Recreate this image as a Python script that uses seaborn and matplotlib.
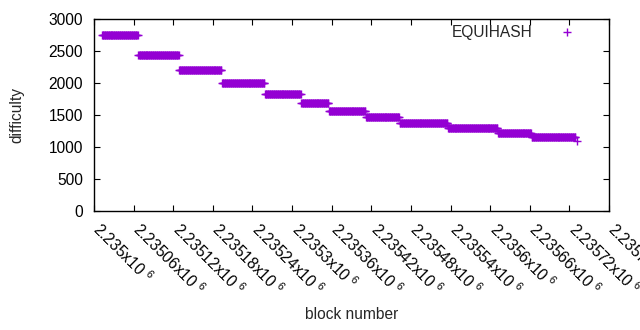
import numpy as np
import pandas as pd
import matplotlib
matplotlib.use("Agg")
import matplotlib.pyplot as plt
import matplotlib.transforms as mtransforms
import seaborn as sns

# ── Data ─────────────────────────────────────────────────────────────────────
BLOCK_BASE   = 2235000
SEG_START    = [12, 67, 129, 194, 259, 314, 356, 412, 463, 536, 612, 663]   # offset from base
SEG_END      = [66, 128, 193, 258, 313, 355, 411, 462, 535, 611, 662, 729]
SEG_DIFF     = [2750, 2432, 2198, 1995, 1823, 1683, 1558, 1464, 1370, 1292, 1214, 1151]
LAST_BLOCK   = 731
LAST_DIFF    = 1089

XTICKS       = [2235000 + 60 * i for i in range(14)]
XTICK_LABELS = ["2.235", "2.23506", "2.23512", "2.23518", "2.23524", "2.2353", "2.23536",
                "2.23542", "2.23548", "2.23554", "2.2356", "2.23566", "2.23572", "2.23578"]
YTICKS       = [0, 500, 1000, 1500, 2000, 2500, 3000]

PURPLE = "#9400d3"
FS = 11.2

rows = []
for s, e, d in zip(SEG_START, SEG_END, SEG_DIFF):
    for b in range(s, e + 1):
        rows.append({"block": BLOCK_BASE + b, "difficulty": d})
rows.append({"block": BLOCK_BASE + LAST_BLOCK, "difficulty": LAST_DIFF})
df = pd.DataFrame(rows)

sns.set_style("white")
plt.rcParams["font.family"] = ["Liberation Sans", "DejaVu Sans"]
plt.rcParams["mathtext.fontset"] = "custom"
plt.rcParams["mathtext.rm"] = "Liberation Sans"
plt.rcParams["mathtext.default"] = "regular"

fig = plt.figure(figsize=(6.4, 3.3), dpi=100)
ax = fig.add_axes([94 / 640, 119 / 330, 515 / 640, 192 / 330])

sns.scatterplot(data=df, x="block", y="difficulty", ax=ax, marker="+",
                color=PURPLE, s=40, linewidth=1.0, legend=False)

ax.set_xlim(2235000, 2235780)
ax.set_ylim(0, 3000)
ax.set_xticks(XTICKS)
ax.set_xticklabels([f"{t}x10 $^{{6}}$" for t in XTICK_LABELS], rotation=-45,
                   ha="left", va="top", rotation_mode="anchor", fontsize=FS)
ax.set_yticks(YTICKS)
ax.set_yticklabels([str(v) for v in YTICKS], fontsize=FS)
ax.tick_params(direction="in", length=4, width=0.8, top=True, right=True,
               bottom=True, left=True, colors="black")
ax.tick_params(axis="y", pad=8)
ax.tick_params(axis="x", pad=6)
# nudge the slanted labels so they start right at their tick (after tick_params)
shift = mtransforms.ScaledTranslation(9 / 100, 0, fig.dpi_scale_trans)
for lab in ax.get_xticklabels():
    lab.set_transform(lab.get_transform() + shift)
for sp in ax.spines.values():
    sp.set_color("black")
    sp.set_linewidth(1.0)

ax.set_xlabel("block number", fontsize=FS)
ax.set_ylabel("difficulty", fontsize=FS)
ax.xaxis.set_label_coords(0.5, -0.5)
ax.yaxis.set_label_coords(-0.136, 0.5)

# legend in the top right, gnuplot style (text then sample)
ax.text(0.8524, 0.932, "EQUIHASH", transform=ax.transAxes, ha="right", va="center",
        fontsize=FS)
ax.plot([0.9184], [0.932], transform=ax.transAxes, marker="+", ms=6, mew=1.0,
        color=PURPLE, ls="none")

fig.savefig("out.png", dpi=100, facecolor="white")
